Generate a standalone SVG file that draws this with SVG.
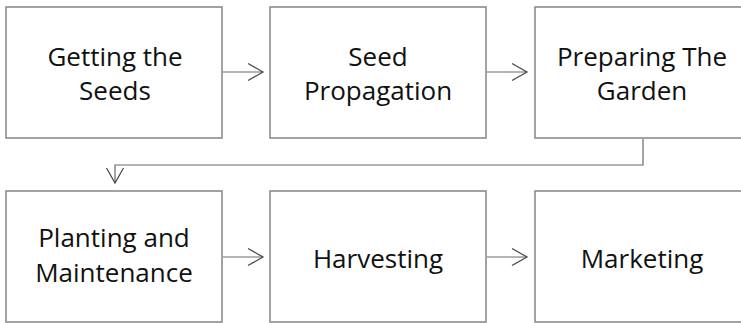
<svg xmlns="http://www.w3.org/2000/svg" width="741" height="323" viewBox="0 0 741 323">
<style>
.box{fill:#fff;stroke:#858585;stroke-width:1.5}
.t{font-family:"Open Sans","Liberation Sans",sans-serif;font-size:26px;fill:#111;text-anchor:middle}
.c{fill:none;stroke:#6a6a6a;stroke-width:1.2}
</style>
<defs>
<marker id="ah" markerWidth="20" markerHeight="20" refX="16" refY="10" orient="auto" markerUnits="userSpaceOnUse">
<path d="M1,1.5 L16,10 L1,18.5" fill="none" stroke="#444" stroke-width="1.2"/>
</marker>
</defs>
<g id="n1"><rect class="box" x="6" y="7" width="216" height="131"/><text class="t" x="115" y="66">Getting the</text><text class="t" x="115" y="100">Seeds</text></g>
<g id="n2"><rect class="box" x="270" y="7" width="216" height="131"/><text class="t" x="378" y="66">Seed</text><text class="t" x="378" y="100">Propagation</text></g>
<g id="n3"><rect class="box" x="535" y="7" width="215" height="131"/><text class="t" x="642" y="66">Preparing The</text><text class="t" x="642" y="100">Garden</text></g>
<g id="n4"><rect class="box" x="6" y="191" width="216" height="131"/><text class="t" x="114" y="247">Planting and</text><text class="t" x="114" y="282">Maintenance</text></g>
<g id="n5"><rect class="box" x="270" y="191" width="216" height="131"/><text class="t" x="378" y="268">Harvesting</text></g>
<g id="n6"><rect class="box" x="535" y="191" width="215" height="131"/><text class="t" x="642" y="268">Marketing</text></g>
<g id="connectors">
<line class="c" x1="223" y1="72" x2="263" y2="72" marker-end="url(#ah)"/>
<line class="c" x1="487" y1="72" x2="527" y2="72" marker-end="url(#ah)"/>
<polyline class="c" points="643,139 643,165 115,165 115,183" marker-end="url(#ah)"/>
<line class="c" x1="223" y1="257" x2="263" y2="257" marker-end="url(#ah)"/>
<line class="c" x1="487" y1="257" x2="527" y2="257" marker-end="url(#ah)"/>
</g>
</svg>
